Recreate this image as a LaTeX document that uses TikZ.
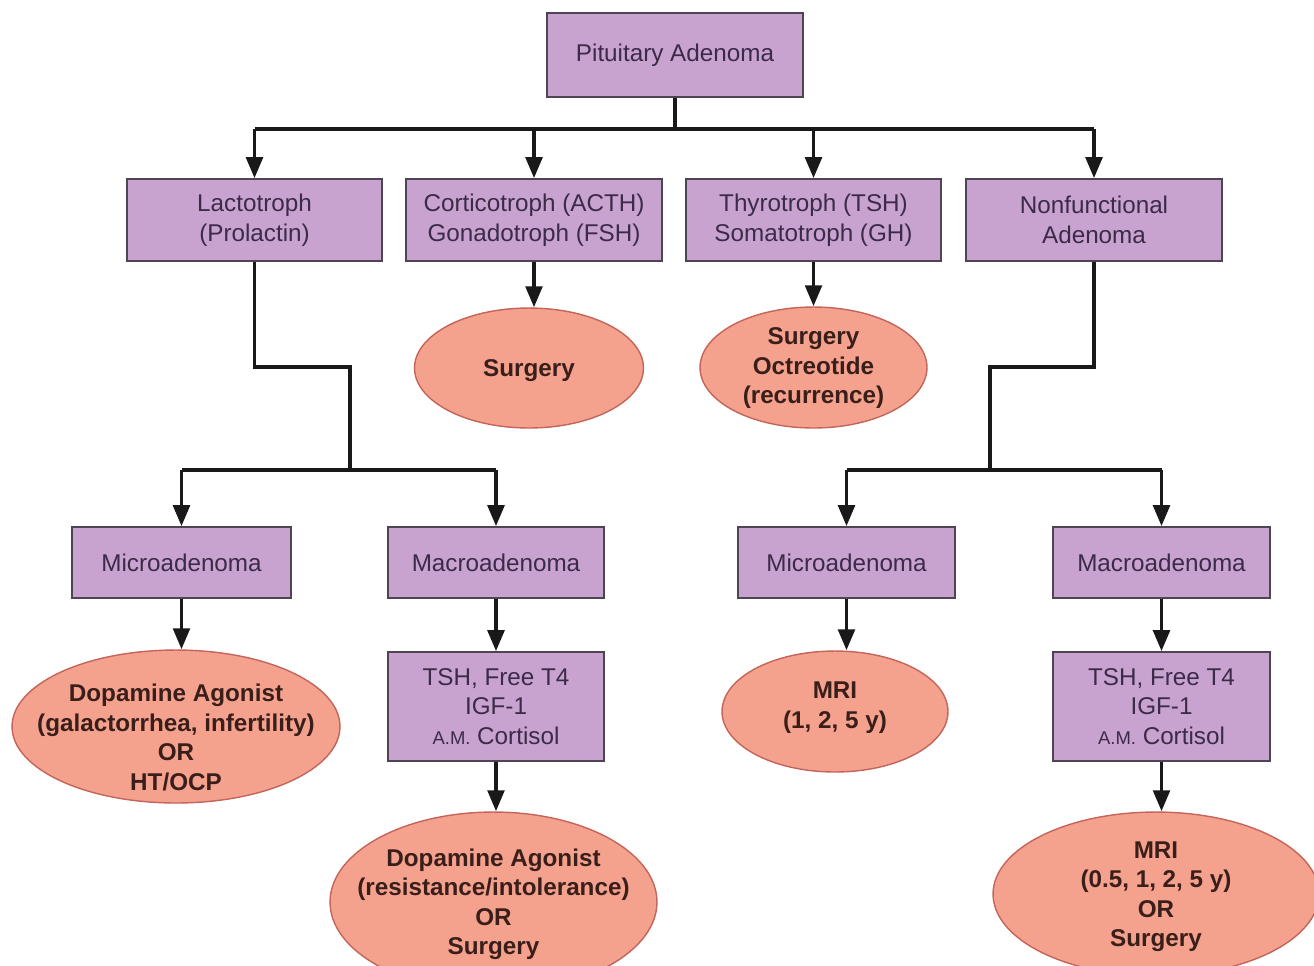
\documentclass[tikz,border=0pt]{standalone}
\usepackage{fontspec}
\setmainfont{Liberation Sans}
\usepackage{tikz}
\usetikzlibrary{arrows.meta, positioning, shapes.geometric}
\definecolor{boxlilac}{HTML}{C9A3CF}
\definecolor{boxedge}{HTML}{4F4552}
\definecolor{boxink}{HTML}{3B2A48}
\definecolor{ovalsalmon}{HTML}{F4A28E}
\definecolor{ovaledge}{HTML}{C4645A}
\definecolor{ovalink}{HTML}{3A1E1A}

% text of an oval, kept out of the size of the shape
\newcommand{\ovaltext}[2][-0.37em]{%
    \makebox[0pt]{\raisebox{#1}[0pt][0pt]{%
        \begin{tabular}{@{}c@{}}#2\end{tabular}}}}
\newcommand{\amtag}{{\fontsize{10.5}{12}\selectfont A.M.}}

\begin{document}
\begin{tikzpicture}[
        x=0.02cm,
        y=-0.02cm,
        font=\fontsize{13.8}{16.8}\selectfont,
        testbox/.style={
            rectangle,
            draw=boxedge,
            line width=0.9pt,
            fill=boxlilac,
            text=boxink,
            align=center,
            inner sep=0pt
        },
        oval/.style={
            ellipse,
            draw=ovaledge,
            line width=0.8pt,
            fill=ovalsalmon,
            text=ovalink,
            font=\fontsize{13.8}{16.8}\selectfont\bfseries,
            inner sep=0pt
        },
        flow/.style={
            draw=black!90,
            line width=2.2pt,
            -{Triangle[length=0.42cm, width=0.33cm]}
        },
        flowline/.style={
            draw=black!90,
            line width=2.2pt
        }
    ]

        \clip (0,0) rectangle (1314,965);

        % Top
        \node[testbox, minimum width=5.12cm, minimum height=1.68cm]
            (pit) at (675,55) {Pituitary Adenoma};
        \coordinate (bus) at (672,129);

        % Adenoma types
        \node[testbox, minimum width=5.10cm, minimum height=1.64cm]
            (lact) at (254.5,220) {Lactotroph\\(Prolactin)};
        \node[testbox, minimum width=5.12cm, minimum height=1.64cm]
            (cort) at (534,220) {Corticotroph (ACTH)\\Gonadotroph (FSH)};
        \node[testbox, minimum width=5.10cm, minimum height=1.64cm]
            (thyr) at (813.5,220) {Thyrotroph (TSH)\\Somatotroph (GH)};
        \node[testbox, minimum width=5.12cm, minimum height=1.64cm]
            (nonf) at (1094,220) {Nonfunctional\\Adenoma};

        % Surgery ovals
        \node[oval, minimum width=4.58cm, minimum height=2.40cm]
            (surg) at (529,368) {\ovaltext{Surgery}};
        \node[oval, minimum width=4.54cm, minimum height=2.42cm]
            (surgoct) at (813.5,367.5)
            {\ovaltext[-0.3em]{Surgery\\Octreotide\\(recurrence)}};

        % Size classes
        \node[testbox, minimum width=4.38cm, minimum height=1.42cm]
            (lmicro) at (181.5,562.5) {Microadenoma};
        \node[testbox, minimum width=4.32cm, minimum height=1.42cm]
            (lmacro) at (496,562.5) {Macroadenoma};
        \node[testbox, minimum width=4.34cm, minimum height=1.42cm]
            (rmicro) at (846.5,562.5) {Microadenoma};
        \node[testbox, minimum width=4.34cm, minimum height=1.42cm]
            (rmacro) at (1161.5,562.5) {Macroadenoma};

        % Follow-up
        \node[oval, minimum width=6.56cm, minimum height=3.06cm]
            (dopa) at (176,726.5)
            {\ovaltext[-0.83em]{Dopamine Agonist\\(galactorrhea, infertility)\\OR\\HT/OCP}};
        \node[testbox, minimum width=4.32cm, minimum height=2.18cm]
            (ltests) at (496,706.5) {TSH, Free T4\\IGF-1\\\amtag{} Cortisol};
        \node[oval, minimum width=4.52cm, minimum height=2.42cm]
            (mri) at (835,711.5) {\ovaltext[-0.1em]{MRI\\(1, 2, 5 y)}};
        \node[testbox, minimum width=4.34cm, minimum height=2.18cm]
            (rtests) at (1161.5,706.5) {TSH, Free T4\\IGF-1\\\amtag{} Cortisol};

        \node[oval, minimum width=6.54cm, minimum height=3.60cm]
            (dopb) at (493.5,902)
            {\ovaltext{Dopamine Agonist\\(resistance/intolerance)\\OR\\Surgery}};
        \node[oval, minimum width=6.52cm, minimum height=3.28cm]
            (mrib) at (1156,894)
            {\ovaltext{MRI\\(0.5, 1, 2, 5 y)\\OR\\Surgery}};

        % Connectors from the top
        \draw[flowline] (pit.south) -- (pit.south |- bus);
        \draw[flowline] (lact.north |- bus) -- (nonf.north |- bus);
        \draw[flow] (lact.north |- bus) -- (lact.north);
        \draw[flow] (cort.north |- bus) -- (cort.north);
        \draw[flow] (thyr.north |- bus) -- (thyr.north);
        \draw[flow] (nonf.north |- bus) -- (nonf.north);

        \draw[flow] (cort.south) -- (cort.south |- surg.north);
        \draw[flow] (thyr.south) -- (thyr.south |- surgoct.north);

        % Lactotroph branch
        \coordinate (lstep) at (350,367);
        \coordinate (ljoin) at (350,470);
        \draw[flowline, line join=miter]
            (lact.south) |- (lstep) -- (ljoin);
        \draw[flowline] (lmicro.north |- ljoin) -- (lmacro.north |- ljoin);
        \draw[flow] (lmicro.north |- ljoin) -- (lmicro.north);
        \draw[flow] (lmacro.north |- ljoin) -- (lmacro.north);

        % Nonfunctional branch
        \coordinate (rstep) at (990,367);
        \coordinate (rjoin) at (990,470);
        \draw[flowline, line join=miter]
            (nonf.south) |- (rstep) -- (rjoin);
        \draw[flowline] (rmicro.north |- rjoin) -- (rmacro.north |- rjoin);
        \draw[flow] (rmicro.north |- rjoin) -- (rmicro.north);
        \draw[flow] (rmacro.north |- rjoin) -- (rmacro.north);

        % Lower arrows
        \draw[flow] (lmicro.south) -- (lmicro.south |- dopa.north);
        \draw[flow] (lmacro.south) -- (ltests.north);
        \draw[flow] (ltests.south) -- (ltests.south |- dopb.north);
        \draw[flow] (rmicro.south) -- (rmicro.south |- mri.north);
        \draw[flow] (rmacro.south) -- (rtests.north);
        \draw[flow] (rtests.south) -- (rtests.south |- mrib.north);

    \end{tikzpicture}
\end{document}
